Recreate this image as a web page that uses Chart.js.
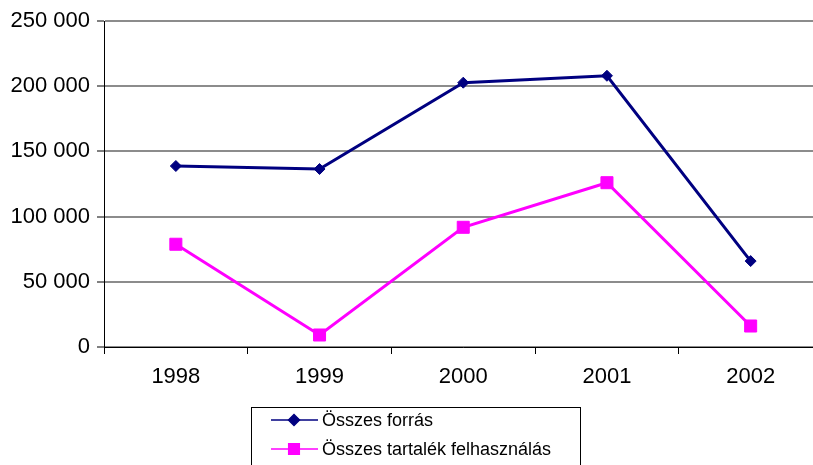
<!DOCTYPE html>
<html>
<head>
<meta charset="utf-8">
<script src="https://cdn.jsdelivr.net/npm/chart.js@4/dist/chart.umd.min.js"></script>
<style>
  html, body { margin: 0; padding: 0; background: #fff; overflow: hidden; }
  #wrap { width: 832px; height: 465px; }
</style>
</head>
<body>
<div id="wrap"><canvas id="forrasCanvas" width="832" height="465"></canvas></div>
<script>
var years = ['1998', '1999', '2000', '2001', '2002'];
var osszesForras = [138800, 136500, 202700, 208000, 65900];
var tartalekFelhasznalas = [78800, 9200, 91800, 126000, 16100];
var seriesNames = ['Összes forrás', 'Összes tartalék felhasználás'];

var FONT = '"Liberation Sans", Arial, sans-serif';

function spaced(v) {
    return String(v).replace(/\B(?=(\d{3})+(?!\d))/g, ' ');
}

// legend drawn by hand: line with marker, framed box like the old excel one
var boxLegend = {
    id: 'boxLegend',
    afterDraw: function (chart) {
        var ctx = chart.ctx;
        ctx.save();
        ctx.strokeStyle = '#000';
        ctx.lineWidth = 1;
        ctx.strokeRect(251.5, 407.5, 329, 80);
        var rows = [420, 449];
        chart.data.datasets.forEach(function (ds, i) {
            var y = rows[i];
            ctx.strokeStyle = ds.borderColor;
            ctx.lineWidth = 1.5;
            ctx.beginPath();
            ctx.moveTo(271, y);
            ctx.lineTo(318, y);
            ctx.stroke();
            ctx.fillStyle = ds.backgroundColor;
            ctx.strokeStyle = ds.borderColor;
            Chart.helpers.drawPoint(ctx, {
                pointStyle: ds.pointStyle,
                radius: ds.pointStyle == 'rect' ? 7.5 : 5.5,
                borderWidth: 1
            }, 294, y);
            ctx.fillStyle = '#000';
            ctx.font = '18px ' + FONT;
            ctx.textBaseline = 'middle';
            ctx.textAlign = 'left';
            ctx.fillText(ds.label, 322, y + 1);
        });
        ctx.restore();
    }
};

var ctx = document.getElementById('forrasCanvas').getContext('2d');
var chart = new Chart(ctx, {
    type: 'line',
    data: {
        labels: years,
        datasets: [{
            label: seriesNames[0],
            data: osszesForras,
            borderColor: '#000080',
            backgroundColor: '#000080',
            borderWidth: 3,
            pointStyle: 'rectRot',
            pointRadius: 5.5,
            pointBorderWidth: 1,
            tension: 0
        }, {
            label: seriesNames[1],
            data: tartalekFelhasznalas,
            borderColor: '#ff00ff',
            backgroundColor: '#ff00ff',
            borderWidth: 3,
            pointStyle: 'rect',
            pointRadius: 8.5,
            pointBorderWidth: 1,
            tension: 0
        }]
    },
    options: {
        responsive: false,
        animation: false,
        devicePixelRatio: 1,
        layout: { padding: { top: 21, right: 1, left: 0, bottom: 0 } },
        plugins: {
            legend: { display: false },
            title: { display: false },
            tooltip: { enabled: false }
        },
        scales: {
            x: {
                offset: true,
                grid: {
                    offset: true,
                    drawOnChartArea: false,
                    drawTicks: true,
                    tickLength: 7,
                    tickColor: '#000'
                },
                border: { color: '#000', width: 1 },
                ticks: {
                    color: '#000',
                    padding: 10,
                    maxRotation: 0,
                    font: { family: FONT, size: 22 }
                },
                afterFit: function (scale) { scale.height = 118; }
            },
            y: {
                min: 0,
                max: 250000,
                grid: {
                    color: '#8c8c8c',
                    lineWidth: 2,
                    tickLength: 7,
                    tickColor: '#000',
                    tickWidth: 1
                },
                border: { color: '#000', width: 1 },
                ticks: {
                    stepSize: 50000,
                    color: '#000',
                    padding: 7,
                    font: { family: FONT, size: 22 },
                    callback: function (v) { return spaced(v); }
                },
                afterFit: function (scale) { scale.width = 104; }
            }
        }
    },
    plugins: [boxLegend]
});
</script>
</body>
</html>
